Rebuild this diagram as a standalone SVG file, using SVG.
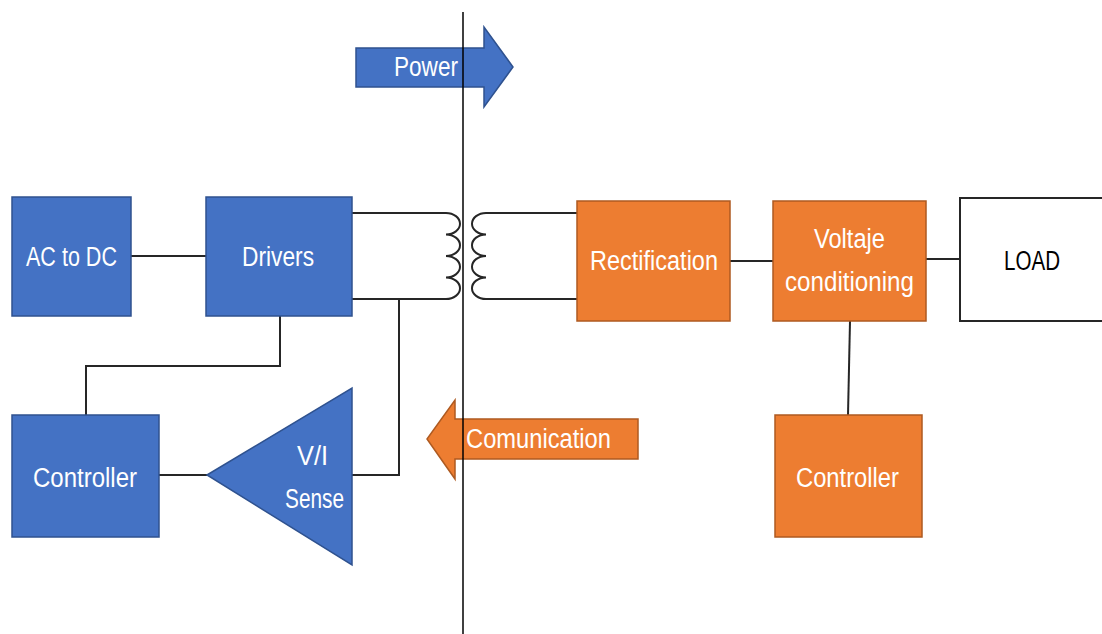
<svg xmlns="http://www.w3.org/2000/svg" width="1102" height="634" viewBox="0 0 1102 634">
<style>
.blue{fill:#4472C4;stroke:#2F528F;stroke-width:1.5}
.orange{fill:#ED7D31;stroke:#AE5A21;stroke-width:1.5}
.load{fill:#FFFFFF;stroke:#262626;stroke-width:2}
.wire{fill:none;stroke:#262626;stroke-width:2}
.coil{fill:none;stroke:#262626;stroke-width:2}
.sep{fill:none;stroke:#000000;stroke-width:1.5}
text{font-family:"Liberation Sans",Arial,sans-serif;font-size:27px;fill:#FFFFFF}
.dark{fill:#000000}
</style>
<rect width="1102" height="634" fill="#FFFFFF"/>
<g id="connectors">
<line class="wire" x1="131" y1="256" x2="206" y2="256"/>
<polyline class="wire" points="280,316 280,366 86,366 86,415"/>
<line class="wire" x1="159" y1="475" x2="207" y2="475"/>
<polyline class="wire" points="352,475 399,475 399,299"/>
<line class="wire" x1="352" y1="213" x2="446" y2="213"/>
<line class="wire" x1="352" y1="299" x2="446" y2="299"/>
<line class="wire" x1="486" y1="213" x2="577" y2="213"/>
<line class="wire" x1="486" y1="299" x2="577" y2="299"/>
<line class="wire" x1="730" y1="261" x2="773" y2="261"/>
<line class="wire" x1="926" y1="259" x2="960" y2="259"/>
<line class="wire" x1="850" y1="321" x2="848" y2="415"/>
</g>
<g id="transformer">
<path class="coil" d="M446 213 A14 10.75 0 0 1 446 234.5 A14 10.75 0 0 1 446 256 A14 10.75 0 0 1 446 277.5 A14 10.75 0 0 1 446 299"/>
<path class="coil" d="M486 213 A14 10.75 0 0 0 486 234.5 A14 10.75 0 0 0 486 256 A14 10.75 0 0 0 486 277.5 A14 10.75 0 0 0 486 299"/>
</g>
<g id="ac-to-dc">
<rect class="blue" x="12" y="197" width="119" height="119"/>
<text x="71.5" y="266" text-anchor="middle" textLength="91" lengthAdjust="spacingAndGlyphs">AC to DC</text>
</g>
<g id="drivers">
<rect class="blue" x="206" y="197" width="146" height="119"/>
<text x="278" y="266" text-anchor="middle" textLength="72" lengthAdjust="spacingAndGlyphs">Drivers</text>
</g>
<g id="controller-left">
<rect class="blue" x="12" y="415" width="147" height="122"/>
<text x="85" y="487" text-anchor="middle" textLength="104" lengthAdjust="spacingAndGlyphs">Controller</text>
</g>
<g id="vi-sense">
<polygon class="blue" points="207,475 352,388 352,565"/>
<text x="312.5" y="465" text-anchor="middle" textLength="31" lengthAdjust="spacingAndGlyphs">V/I</text>
<text x="314.5" y="508" text-anchor="middle" textLength="59" lengthAdjust="spacingAndGlyphs">Sense</text>
</g>
<g id="rectification">
<rect class="orange" x="577" y="201" width="153" height="120"/>
<text x="654" y="270" text-anchor="middle" textLength="128" lengthAdjust="spacingAndGlyphs">Rectification</text>
</g>
<g id="voltaje-conditioning">
<rect class="orange" x="773" y="201" width="153" height="120"/>
<text x="849.5" y="248" text-anchor="middle" textLength="71" lengthAdjust="spacingAndGlyphs">Voltaje</text>
<text x="849.5" y="291" text-anchor="middle" textLength="129" lengthAdjust="spacingAndGlyphs">conditioning</text>
</g>
<g id="load">
<rect class="load" x="960" y="198" width="145" height="123"/>
<text class="dark" x="1032" y="270" text-anchor="middle" textLength="56" lengthAdjust="spacingAndGlyphs">LOAD</text>
</g>
<g id="controller-right">
<rect class="orange" x="775" y="415" width="147" height="122"/>
<text x="847.5" y="487" text-anchor="middle" textLength="103" lengthAdjust="spacingAndGlyphs">Controller</text>
</g>
<g id="power-arrow">
<polygon class="blue" points="356,48 484,48 484,27 513,67 484,107 484,87 356,87"/>
<text x="426" y="76" text-anchor="middle" textLength="64" lengthAdjust="spacingAndGlyphs">Power</text>
</g>
<g id="comunication-arrow">
<polygon class="orange" points="638,419 455,419 455,400 427,439 455,479 455,459 638,459"/>
<text x="538.5" y="448" text-anchor="middle" textLength="145" lengthAdjust="spacingAndGlyphs">Comunication</text>
</g>
<g id="separator">
<line class="sep" x1="463" y1="12" x2="463" y2="634"/>
</g>
</svg>
